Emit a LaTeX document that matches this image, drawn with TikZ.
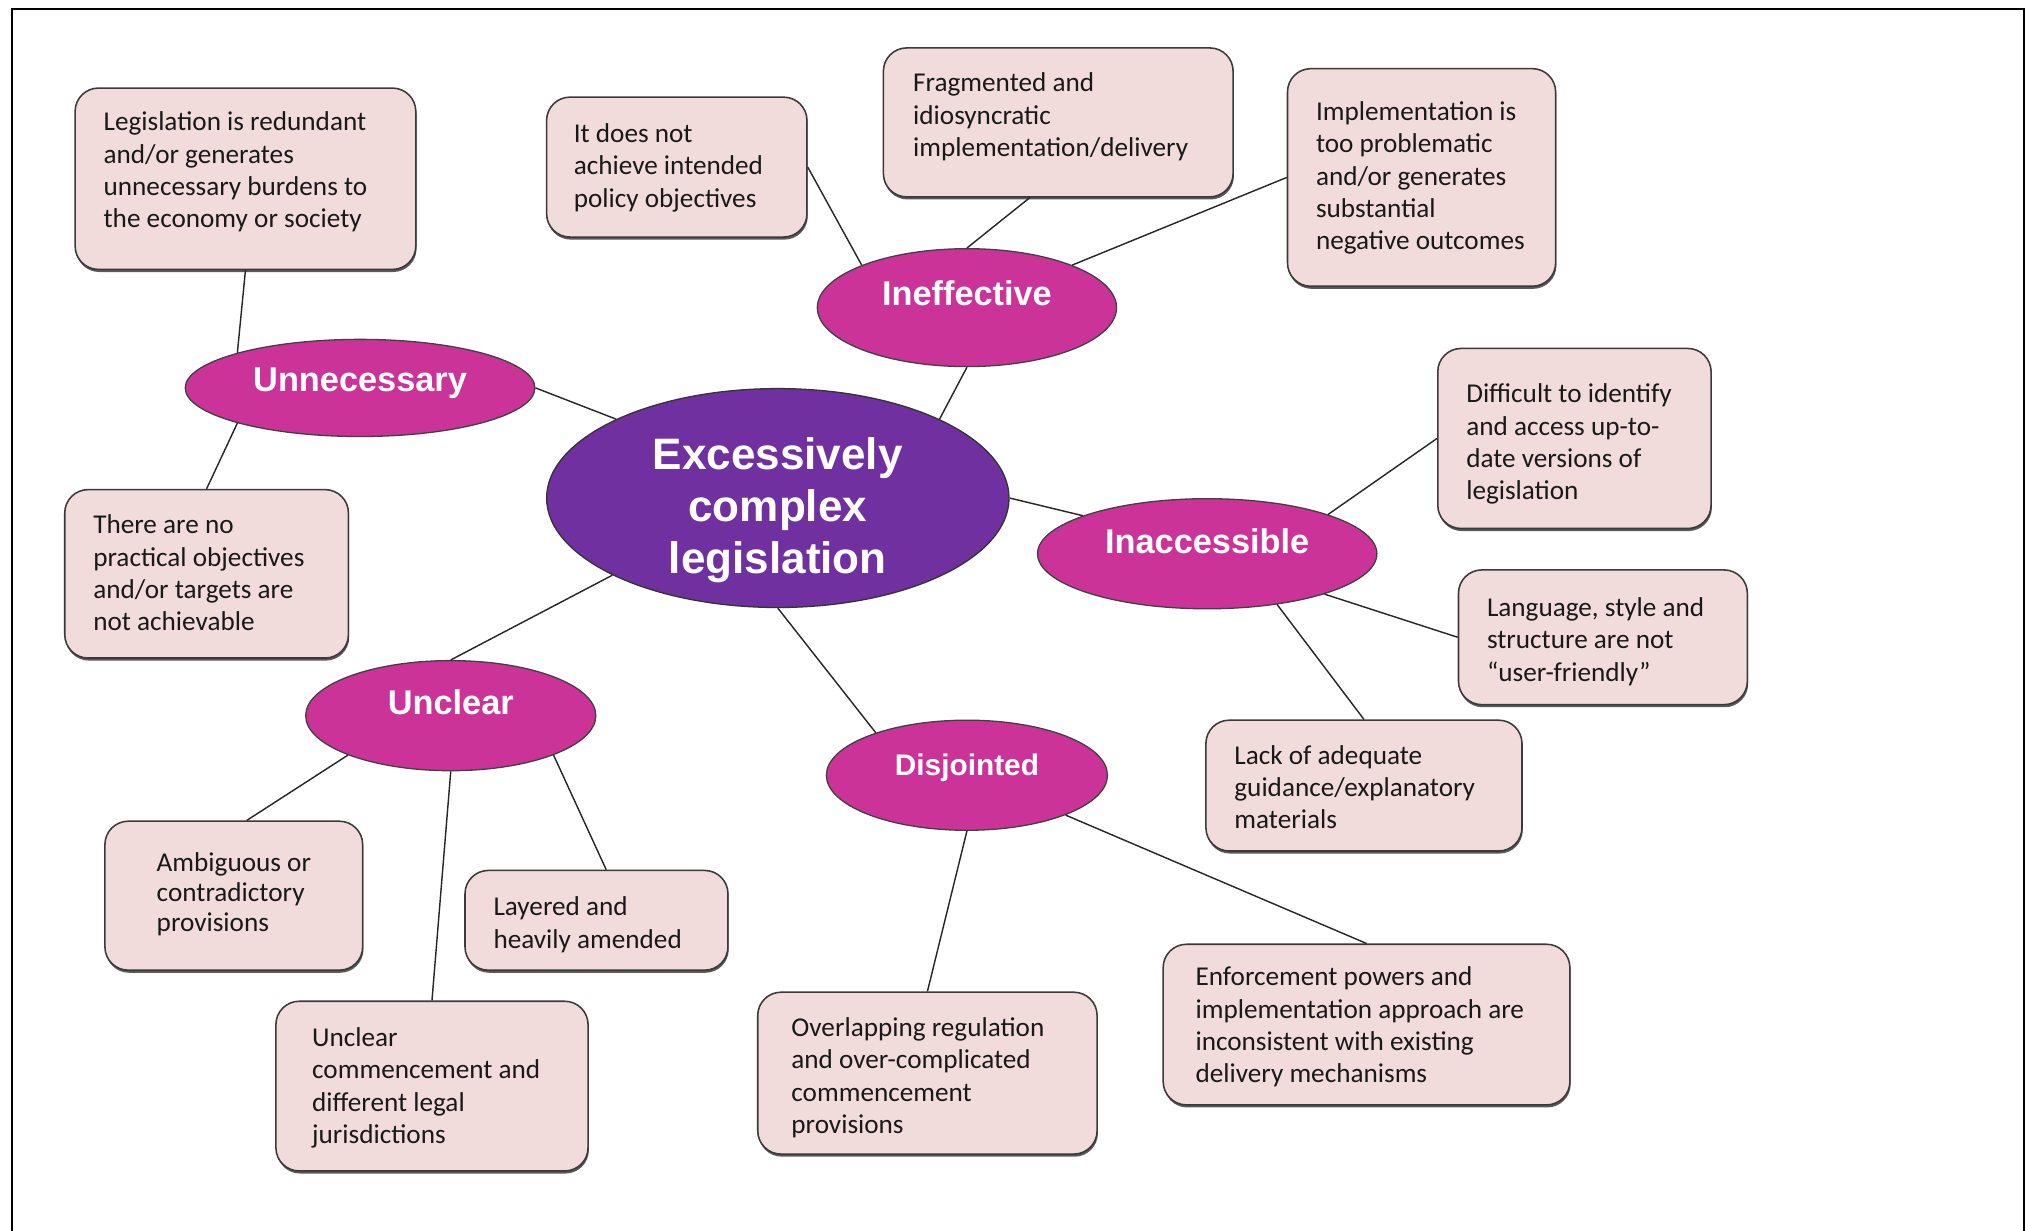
\documentclass[tikz,border=0pt]{standalone}
\usepackage{fontspec}
\setmainfont{Carlito}
\newfontfamily\catfont{Liberation Sans}
\usetikzlibrary{shapes.geometric,shadows}
\definecolor{boxfill}{HTML}{F2DCDB}
\definecolor{boxline}{HTML}{3A3A3A}
\definecolor{catfill}{HTML}{CC3399}
\definecolor{corefill}{HTML}{7030A0}
\newcommand\leaftext[4]{\raisebox{#3}[0pt][0pt]{\makebox[#1][l]{\hspace*{#2}\begin{tabular}[t]{@{}l@{}}#4\end{tabular}}}}
\newcommand\cattext[2]{\raisebox{#1}[0pt][0pt]{#2}}
\tikzset{
 leaf/.style={rectangle, draw=boxline, fill=boxfill, line width=1.2pt, rounded corners=18pt, inner sep=0pt,
   font=\fontsize{21}{25}\selectfont, text=black!90,
   drop shadow={shadow xshift=0.6pt, shadow yshift=-2pt, fill=black!65, opacity=1}},
 cat/.style={ellipse, draw=black!75, fill=catfill, line width=1pt, inner sep=0pt, text=white,
   font=\catfont\bfseries\fontsize{26.5}{30}\selectfont},
 core/.style={ellipse, draw=black!80, fill=corefill, line width=1pt, inner sep=0pt, text=white,
   font=\catfont\bfseries\fontsize{34}{40}\selectfont},
 link/.style={draw=black!85, line width=1.1pt},
 frame/.style={draw=black, line width=1.5pt},
}
\begin{document}
\begin{tikzpicture}[x=1pt,y=-1pt]
\useasboundingbox (0,0) rectangle (1568,950);
\draw[frame] (9,950) -- (9,7.3) -- (1562.5,7.3) -- (1562.5,950);

% central and category ellipses
\node[core, minimum width=357pt, minimum height=169pt] (core) at (600.5,384.5)
  {\raisebox{22pt}[0pt][0pt]{\begin{tabular}[t]{@{}c@{}}Excessively\\complex\\legislation\end{tabular}}};
\node[cat, minimum width=270pt, minimum height=75pt] (unnec) at (278,299.5) {\cattext{-3pt}{Unnecessary}};
\node[cat, minimum width=231pt, minimum height=91pt] (ineff) at (746.5,237.5) {\cattext{2pt}{Ineffective}};
\node[cat, minimum width=262pt, minimum height=85pt] (inacc) at (932,427.5) {\cattext{0pt}{Inaccessible}};
\node[cat, minimum width=224pt, minimum height=85pt] (unclear) at (348,552.5) {\cattext{1pt}{Unclear}};
\node[cat, minimum width=217pt, minimum height=85pt, font=\catfont\bfseries\fontsize{23}{27}\selectfont] (disj) at (746.5,598.5) {\cattext{0pt}{Disjointed}};

% leaf boxes
\node[leaf, minimum width=263pt, minimum height=140pt] (redundant) at (189.5,138)
  {\leaftext{263pt}{22pt}{37pt}{Legislation is redundant\\and/or generates\\unnecessary burdens to\\the economy or society}};
\node[leaf, minimum width=219pt, minimum height=130pt] (noobj) at (159.5,443)
  {\leaftext{219pt}{22pt}{31pt}{There are no\\practical objectives\\and/or targets are\\not achievable}};
\node[leaf, minimum width=201pt, minimum height=108pt] (notachieve) at (522.5,129)
  {\leaftext{201pt}{21pt}{19pt}{It does not\\achieve intended\\policy objectives}};
\node[leaf, minimum width=270pt, minimum height=115pt] (fragmented) at (817,94.5)
  {\leaftext{270pt}{23pt}{23.5pt}{Fragmented and\\idiosyncratic\\implementation/delivery}};
\node[leaf, minimum width=207pt, minimum height=168pt] (implem) at (1097.5,137)
  {\leaftext{207pt}{22pt}{44pt}{Implementation is\\too problematic\\and/or generates\\substantial\\negative outcomes}};
\node[leaf, minimum width=211pt, minimum height=139pt] (difficult) at (1215.5,338.5)
  {\leaftext{211pt}{22pt}{27.5pt}{Difficult to identify\\and access up-to-\\date versions of\\legislation}};
\node[leaf, minimum width=223pt, minimum height=104pt] (language) at (1237.5,492)
  {\leaftext{223pt}{22pt}{16pt}{Language, style and\\structure are not\\“user-friendly”}};
\node[leaf, minimum width=244pt, minimum height=101pt] (lack) at (1053,606.5)
  {\leaftext{244pt}{22pt}{16.5pt}{Lack of adequate\\guidance/explanatory\\materials}};
\node[leaf, minimum width=314pt, minimum height=124pt] (enforcement) at (1055,791)
  {\leaftext{314pt}{25pt}{30pt}{Enforcement powers and\\implementation approach are\\inconsistent with existing\\delivery mechanisms}};
\node[leaf, minimum width=262pt, minimum height=125pt] (overlapping) at (716,828.5)
  {\leaftext{262pt}{26pt}{28.5pt}{Overlapping regulation\\and over-complicated\\commencement\\provisions}};
\node[leaf, minimum width=241pt, minimum height=131pt] (unclearcomm) at (333.5,838.5)
  {\leaftext{241pt}{28pt}{30.5pt}{Unclear\\commencement and\\different legal\\jurisdictions}};
\node[leaf, minimum width=203pt, minimum height=77pt] (layered) at (460.5,710.5)
  {\leaftext{203pt}{22pt}{3.5pt}{Layered and\\heavily amended}};
\node[leaf, minimum width=199pt, minimum height=115pt, font=\fontsize{21}{23}\selectfont] (ambiguous) at (180.5,691.5)
  {\leaftext{199pt}{40pt}{18.5pt}{Ambiguous or\\contradictory\\provisions}};

% connectors
\draw[link] (redundant.south) -- (unnec.164);
\draw[link] (unnec.196) -- (noobj.north);
\draw[link] (unnec.east) -- (core.154);
\draw[link] (notachieve.east) -- (ineff.158);
\draw[link] (ineff.north) -- ([xshift=-22pt]fragmented.south);
\draw[link] (ineff.22) -- (implem.west);
\draw[link] (ineff.south) -- (core.26);
\draw[link] (core.east) -- (inacc.163);
\draw[link] (inacc.18) -- (difficult.west);
\draw[link] (inacc.-19) -- (language.west);
\draw[link] (inacc.-36) -- (lack.north);
\draw[link] (core.south) -- (disj.155);
\draw[link] (disj.south) -- (overlapping.north);
\draw[link] (disj.-22) -- (enforcement.north);
\draw[link] (core.205) -- (unclear.north);
\draw[link] (unclear.201) -- ([xshift=10pt]ambiguous.north);
\draw[link] (unclear.south) -- (unclearcomm.north);
\draw[link] (unclear.-21) -- ([xshift=7.5pt]layered.north);
\end{tikzpicture}
\end{document}
